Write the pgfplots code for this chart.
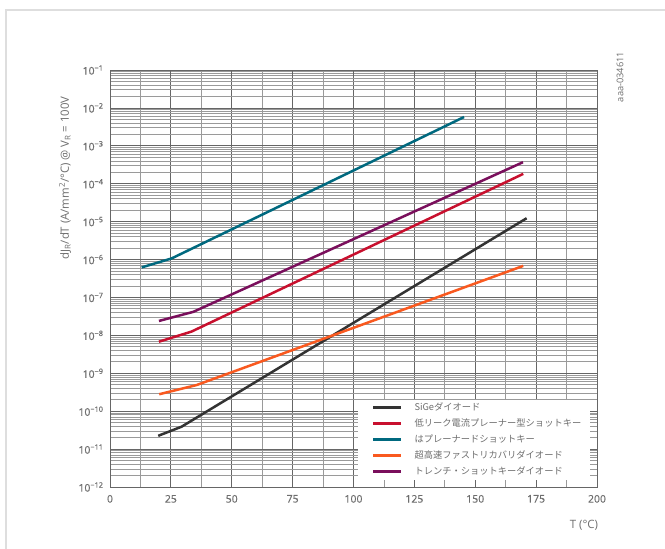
\documentclass[border=0pt]{standalone}
\usepackage{fontspec}
\setmainfont{Open Sans}
\newfontfamily\jp{Noto Sans CJK JP}
\newfontfamily\tickfont[FakeBold=0.5]{Open Sans}
\usepackage{pgfplots}
\pgfplotsset{compat=1.18}
\definecolor{txt}{HTML}{6E6E6E}
\definecolor{cblack}{HTML}{333333}
\definecolor{cred}{HTML}{C8102E}
\definecolor{cteal}{HTML}{00697F}
\definecolor{corange}{HTML}{F9591F}
\definecolor{cpurple}{HTML}{7A0F5C}
\definecolor{gmaj}{HTML}{666666}
\definecolor{gmin}{HTML}{9A9A9A}
\begin{document}
\begin{tikzpicture}
\useasboundingbox (0,0) rectangle (665bp,549bp);
\fill[white] (0,0) rectangle (665bp,549bp);
\draw[color=black!13, line width=1.5bp] (6bp,-2bp) -- (6bp,539bp) -- (667bp,539bp);
\begin{axis}[at={(110bp,62bp)}, anchor=south west, scale only axis,
  width=487bp, height=417bp, xmin=0, xmax=200, ymode=log,
  ymin=1e-12, ymax=1e-1, xtick={0,25,...,200}, minor x tick num=1,
  ytick={1e-12,1e-11,1e-10,1e-9,1e-8,1e-7,1e-6,1e-5,1e-4,1e-3,1e-2,1e-1},
  axis line style={gmaj, line width=0.8bp},
  grid=both,
  major grid style={gmaj, line width=0.8bp},
  minor grid style={gmin, line width=0.75bp},
  major tick length=0pt, minor tick length=0pt,
  ticklabel style={font=\tickfont\fontsize{10.5}{12}\selectfont, text=txt},
  xticklabel style={yshift=-4.5bp},
  yticklabel style={xshift=-3bp},
  xticklabels={0,25,50,75,100,125,150,175,200},
  yticklabels={10\textsuperscript{−12},10\textsuperscript{−11},10\textsuperscript{−10},10\textsuperscript{−9},10\textsuperscript{−8},10\textsuperscript{−7},10\textsuperscript{−6},10\textsuperscript{−5},10\textsuperscript{−4},10\textsuperscript{−3},10\textsuperscript{−2},10\textsuperscript{−1}},
  legend style={at={(1,0)}, anchor=south east, xshift=-0.5bp, yshift=8.5bp,
    fill=none, draw=none, inner xsep=13bp, inner ysep=0bp,
    font=\jp\fontsize{9.3}{11}\selectfont, text=txt, row sep=2.8bp,
    /tikz/every odd column/.append style={column sep=10bp}},
  legend cell align=left,
  legend image code/.code={\draw[#1, line width=2.5bp] (0bp,0bp) -- (28bp,0bp);},
]
\fill[white] (rel axis cs:0.509,0) rectangle (rel axis cs:1,0.2086);
\addplot[cblack, line width=2.5bp] coordinates {(19.8,2.24e-11) (29.4,3.9e-11) (171.1,1.23e-5)};
\addlegendentry{SiGeダイオード}
\addplot[cred, line width=2.5bp] coordinates {(20.1,6.8e-9) (33.5,1.26e-8) (169.7,1.82e-4)};
\addlegendentry{低リーク電流プレーナー型ショットキー}
\addplot[cteal, line width=2.5bp] coordinates {(13.0,6.2e-7) (25.3,1.07e-6) (145.4,5.75e-3)};
\addlegendentry{はプレーナードショットキー}
\addplot[corange, line width=2.5bp] coordinates {(20.2,2.8e-10) (35.6,4.9e-10) (169.7,6.8e-7)};
\addlegendentry{超高速ファストリカバリダイオード}
\addplot[cpurple, line width=2.5bp] coordinates {(20.1,2.4e-8) (34.2,4.17e-8) (169.6,3.7e-4)};
\addlegendentry{トレンチ・ショットキーダイオード}
\end{axis}
\begin{axis}[at={(110bp,62bp)}, anchor=south west, scale only axis,
  width=487bp, height=417bp, xmin=0, xmax=200, ymode=log,
  ymin=1e-12, ymax=1e-1, xtick={0,25,...,200}, minor x tick num=1,
  ytick={1e-12,1e-11,1e-10,1e-9,1e-8,1e-7,1e-6,1e-5,1e-4,1e-3,1e-2,1e-1},
  axis line style={gmaj, line width=0.8bp},
  xticklabels={}, yticklabels={},
  major tick length=7bp, minor tick length=7bp,
  major tick style={gmaj, line width=0.8bp}, minor tick style={gmin, line width=0.75bp},
  tick align=inside]
\addplot[draw=none] coordinates {(0,1e-12)};
\end{axis}
\node[rotate=90, text=txt, font=\fontsize{11.4}{13}\selectfont] at (65bp,371bp)
  {dJ\textsubscript{R}/dT (A/mm\textsuperscript{2}/°C) @ V\textsubscript{R} = 100V};
\node[text=txt, font=\fontsize{11.5}{13}\selectfont] at (584bp,24bp) {T (°C)};
\node[rotate=90, text=txt, font=\fontsize{9.3}{11}\selectfont] at (620bp,472bp) {aaa-034611};
\end{tikzpicture}
\end{document}
